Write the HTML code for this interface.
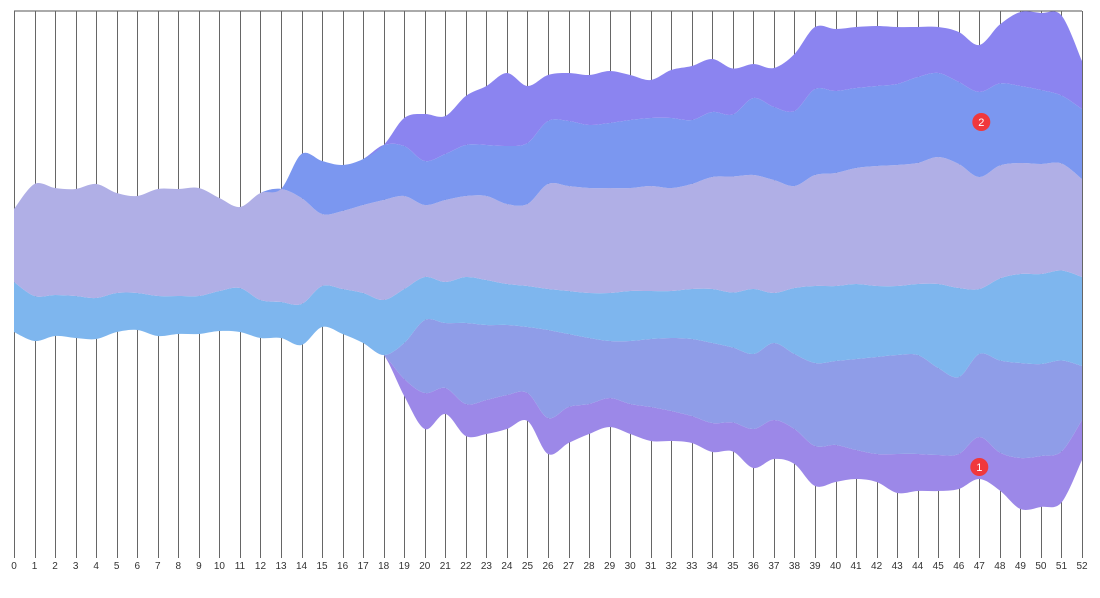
<!DOCTYPE html>
<html>
<head>
<meta charset="utf-8">
<style>
  html, body { margin: 0; padding: 0; background: #ffffff; }
  body { width: 1100px; height: 593px; overflow: hidden; font-family: "Liberation Sans", sans-serif; }
  svg text { font-family: "Liberation Sans", sans-serif; }
</style>
</head>
<body>
<svg id="chart" width="1100" height="593" viewBox="0 0 1100 593" xmlns="http://www.w3.org/2000/svg">
  <g id="grid"></g>
  <g id="layers"></g>
  <g id="axis"></g>
  <g id="markers"></g>
</svg>
<script>
// ---- data ----
const categories = Array.from({length: 53}, (_, i) => String(i));
const tickLabels = categories;
// layers listed bottom (series-1) to top (series-6)
const series1 = [0,0,0,0,0,0,0,0,0,0,0,0,0,0,0,0,0,0,0,17,36,26,32,34,34,28,36,36,30,29,30,34,30,27,29,29,39,39,35,40,37,29,28,39,37,36,35,42,38,51,51,51,40];
const series2 = [0,0,0,0,0,0,0,0,0,0,0,0,0,0,0,0,0,0,0,36,73,65,81,75,70,66,88,73,66,57,63,68,73,77,80,75,75,77,75,83,84,91,97,99,99,87,77,83,92,95,92,91,54];
const series3 = [50,45,41,42,41,39,37,40,38,38,40,44,38,36,41,41,45,50,55,54,43,41,46,45,41,41,41,43,45,48,50,48,47,50,54,55,65,50,66,77,75,75,71,69,71,84,89,65,82,89,90,90,89];
const series4 = [73,112,107,107,114,100,97,107,107,108,93,81,107,113,106,72,78,88,100,93,72,82,81,84,80,82,105,105,105,105,103,105,103,105,112,116,114,113,102,111,113,116,120,121,121,127,124,112,113,111,110,107,98];
const series5 = [0,0,0,0,0,0,0,0,0,0,0,0,0,0,44,53,46,46,55,50,44,46,51,51,58,61,63,65,63,65,68,68,70,64,65,62,77,73,75,86,82,80,80,81,86,84,82,85,82,77,74,68,70];
const series6 = [0,0,0,0,0,0,0,0,0,0,0,0,0,0,0,0,0,0,0,28,47,38,49,59,73,57,46,48,50,52,45,38,48,54,53,46,34,39,57,62,62,61,60,57,50,46,50,47,59,74,77,80,48];
// centre line of the river per category (value units, relative to chart middle)
const centerline = [5.5,-2.5,-3,-1.5,-3.5,-2.5,-2,-2.5,-3.5,-4,-0.5,4.5,0.5,-1.5,-15.5,-21,-15.5,-14,-15,-8,6.5,0,1,-5,-14,-11.5,-0.5,-7,-10.5,-16,-10.5,-4.5,-9.5,-10.5,-9.5,-5,1,-1.5,-6,-8.5,-9.5,-12,-11,-5,-6,-6,-4.5,-3,-7.5,-4.5,-5,-6,-4.5];
const markerIndex = [47, 47];
const markerLabels = ["1", "2"];

const colors = ["#9c88e8", "#8f9de8", "#7eb6ee", "#b0afe6", "#7b97f0", "#8b84f0"];
const seriesList = [series1, series2, series3, series4, series5, series6];

// ---- scales ----
const X0 = 14, X1 = 1082, TOP = 11, BOTTOM = 558, CENTER = 265, UNIT = 1;
const xScale = i => X0 + (X1 - X0) * i / (categories.length - 1);
const yScale = v => CENTER + v * UNIT;

const NS = "http://www.w3.org/2000/svg";
function mk(tag, attrs) {
  const e = document.createElementNS(NS, tag);
  for (const k in attrs) e.setAttribute(k, attrs[k]);
  return e;
}

// grid
const grid = document.getElementById('grid');
const border = mk('line', {x1: X0, y1: TOP, x2: X1, y2: TOP, stroke: '#555', 'stroke-width': 1});


grid.appendChild(border);
categories.forEach((c, i) => {
  const x = Math.round(xScale(i)) + 0.5;
  const l = mk('line', {x1: x, y1: TOP, x2: x, y2: BOTTOM, stroke: '#666', 'stroke-width': 1});
  
  
  grid.appendChild(l);
});

// stacking about the centre line
const n = categories.length;
const totals = Array.from({length: n}, (_, i) => seriesList.reduce((s, a) => s + a[i], 0));
const bounds = [];
let cur = totals.map((t, i) => centerline[i] + t / 2);
bounds.push(cur.slice());
seriesList.forEach(s => {
  cur = cur.map((v, i) => v - s[i]);
  bounds.push(cur.slice());
});

function smoothPath(pts) {
  let d = '';
  const t = 0.33;
  for (let i = 0; i < pts.length - 1; i++) {
    const p0 = pts[Math.max(0, i - 1)], p1 = pts[i], p2 = pts[i + 1], p3 = pts[Math.min(pts.length - 1, i + 2)];
    const c1x = p1[0] + (p2[0] - p0[0]) * t / 2, c1y = p1[1] + (p2[1] - p0[1]) * t / 2;
    const c2x = p2[0] - (p3[0] - p1[0]) * t / 2, c2y = p2[1] - (p3[1] - p1[1]) * t / 2;
    d += ` C${c1x.toFixed(1)},${c1y.toFixed(1)} ${c2x.toFixed(1)},${c2y.toFixed(1)} ${p2[0].toFixed(1)},${p2[1].toFixed(1)}`;
  }
  return d;
}

const layers = document.getElementById('layers');
seriesList.forEach((s, k) => {
  const lower = bounds[k].map((v, i) => [xScale(i), yScale(v)]);
  const upper = bounds[k + 1].map((v, i) => [xScale(i), yScale(v)]);
  const lowRev = lower.slice().reverse();
  const d = `M${upper[0][0]},${upper[0][1]}` + smoothPath(upper) + ` L${lowRev[0][0]},${lowRev[0][1]}` + smoothPath(lowRev) + ' Z';
  const p = mk('path', {d: d, fill: colors[k], stroke: 'none'});
  
  
  layers.appendChild(p);
});

// axis labels
const axis = document.getElementById('axis');
tickLabels.forEach((c, i) => {
  const t = mk('text', {x: xScale(i), y: 569, 'text-anchor': 'middle', 'font-size': 10, fill: '#333'});
  t.textContent = c;
  
  
  axis.appendChild(t);
});

// markers
const markers = document.getElementById('markers');
const markerY = [
  yScale(bounds[0][markerIndex[0]]) - 12,
  yScale(bounds[5][markerIndex[1]]) + 30
];
markerIndex.forEach((idx, m) => {
  const g = mk('g', {});
  
  
  const cx = xScale(idx) + (m === 1 ? 2 : 0);
  g.appendChild(mk('circle', {cx: cx, cy: markerY[m], r: 9, fill: '#f0383c'}));
  const t = mk('text', {x: cx, y: markerY[m] + 4, 'text-anchor': 'middle', 'font-size': 11, fill: '#fff'});
  t.textContent = markerLabels[m];
  g.appendChild(t);
  markers.appendChild(g);
});
</script>
</body>
</html>
